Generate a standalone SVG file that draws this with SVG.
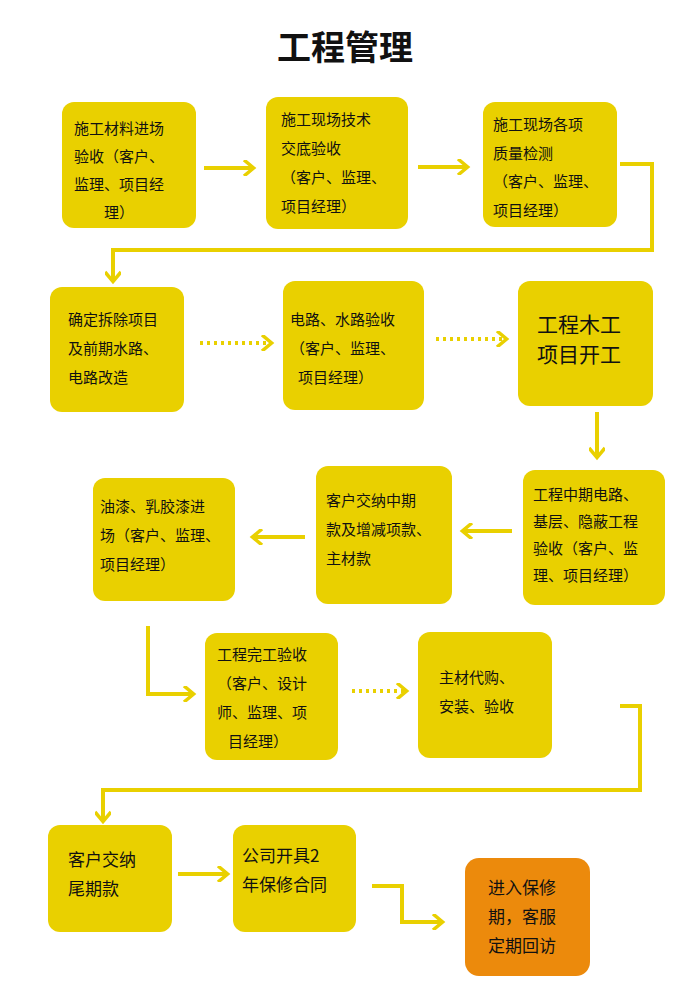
<svg xmlns="http://www.w3.org/2000/svg" width="700" height="991" viewBox="0 0 700 991">
<style>
.b{fill:#e9d000}
.o{fill:#ec8a0c}
text{font-family:"Noto Sans CJK SC",sans-serif;font-size:15px;fill:#111}
.big{font-size:21px}
.mid{font-size:17px}
.c{fill:none;stroke:#e9d000;stroke-width:4}
.d{stroke-dasharray:3 4}
</style>
<defs>
<marker id="a" viewBox="0 0 10 10" refX="6" refY="5" markerWidth="4" markerHeight="4" orient="auto" markerUnits="strokeWidth"><path d="M1,0 L7,5 L1,10" fill="none" stroke="#e9d000" stroke-width="2.2"/></marker>
</defs>
<rect width="700" height="991" fill="#fff"/>
<text x="345" y="60" text-anchor="middle" style="font-size:34px;font-weight:bold">工程管理</text>
<g id="connectors">
<path class="c" d="M204,168 H252" marker-end="url(#a)"/>
<path class="c" d="M418,167 H466" marker-end="url(#a)"/>
<path class="c" d="M620,164 H652 V250 H113 V280" marker-end="url(#a)"/>
<path class="c d" d="M200,343 H270" marker-end="url(#a)"/>
<path class="c d" d="M436,339 H505" marker-end="url(#a)"/>
<path class="c" d="M597,412 V456" marker-end="url(#a)"/>
<path class="c" d="M512,531 H464" marker-end="url(#a)"/>
<path class="c" d="M305,537 H254" marker-end="url(#a)"/>
<path class="c" d="M148,626 V694 H192" marker-end="url(#a)"/>
<path class="c d" d="M352,691 H405" marker-end="url(#a)"/>
<path class="c" d="M620,706 H640 V790 H103 V820" marker-end="url(#a)"/>
<path class="c" d="M178,874 H226" marker-end="url(#a)"/>
<path class="c" d="M372,886 H402 V922 H441" marker-end="url(#a)"/>
</g>
<g id="n1"><rect class="b" x="62" y="102" width="134" height="126" rx="12"/><text x="74" y="134">施工材料进场</text><text x="74" y="162">验收（客户、</text><text x="74" y="190">监理、项目经</text><text x="104" y="218">理）</text></g>
<g id="n2"><rect class="b" x="266" y="97" width="142" height="132" rx="12"/><text x="281" y="125">施工现场技术</text><text x="281" y="154">交底验收</text><text x="281" y="183">（客户、监理、</text><text x="281" y="212">项目经理）</text></g>
<g id="n3"><rect class="b" x="483" y="102" width="134" height="125" rx="12"/><text x="493" y="130">施工现场各项</text><text x="493" y="159">质量检测</text><text x="493" y="187">（客户、监理、</text><text x="493" y="216">项目经理）</text></g>
<g id="n4"><rect class="b" x="50" y="287" width="134" height="125" rx="12"/><text x="68" y="325">确定拆除项目</text><text x="68" y="354">及前期水路、</text><text x="68" y="383">电路改造</text></g>
<g id="n5"><rect class="b" x="283" y="281" width="141" height="129" rx="12"/><text x="290" y="325">电路、水路验收</text><text x="290" y="354">（客户、监理、</text><text x="298" y="383">项目经理）</text></g>
<g id="n6"><rect class="b" x="518" y="281" width="135" height="125" rx="12"/><text x="537" y="332" class="big">工程木工</text><text x="537" y="362" class="big">项目开工</text></g>
<g id="n7"><rect class="b" x="523" y="470" width="142" height="135" rx="12"/><text x="533" y="500">工程中期电路、</text><text x="533" y="527">基层、隐蔽工程</text><text x="533" y="554">验收（客户、监</text><text x="533" y="581">理、项目经理）</text></g>
<g id="n8"><rect class="b" x="316" y="466" width="136" height="138" rx="12"/><text x="326" y="506">客户交纳中期</text><text x="326" y="535">款及增减项款、</text><text x="326" y="564">主材款</text></g>
<g id="n9"><rect class="b" x="93" y="478" width="142" height="123" rx="12"/><text x="100" y="512">油漆、乳胶漆进</text><text x="100" y="541">场（客户、监理、</text><text x="100" y="570">项目经理）</text></g>
<g id="n10"><rect class="b" x="205" y="633" width="133" height="127" rx="12"/><text x="217" y="660">工程完工验收</text><text x="217" y="689">（客户、设计</text><text x="217" y="718">师、监理、项</text><text x="228" y="747">目经理）</text></g>
<g id="n11"><rect class="b" x="418" y="632" width="134" height="126" rx="12"/><text x="439" y="683">主材代购、</text><text x="439" y="712">安装、验收</text></g>
<g id="n12"><rect class="b" x="48" y="825" width="124" height="107" rx="12"/><text x="68" y="866" class="mid">客户交纳</text><text x="68" y="895" class="mid">尾期款</text></g>
<g id="n13"><rect class="b" x="233" y="825" width="123" height="107" rx="12"/><text x="242" y="862" class="mid">公司开具2</text><text x="242" y="891" class="mid">年保修合同</text></g>
<g id="n14"><rect class="o" x="465" y="858" width="125" height="118" rx="14"/><text x="488" y="894" class="mid">进入保修</text><text x="488" y="923" class="mid">期，客服</text><text x="488" y="952" class="mid">定期回访</text></g>
</svg>
